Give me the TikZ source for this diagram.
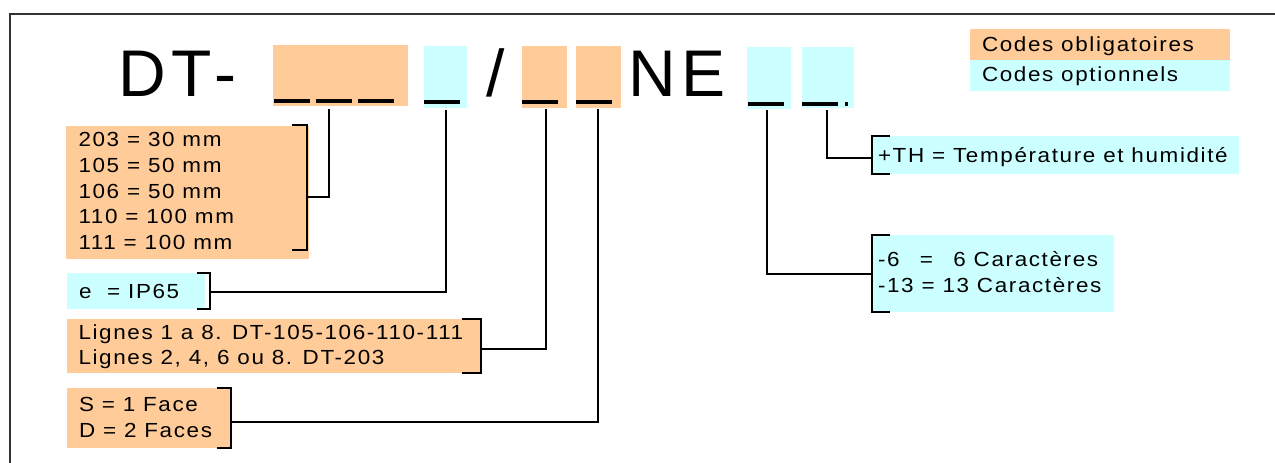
\documentclass[tikz,border=0pt]{standalone}
\usepackage{fontspec}
\setmainfont{Liberation Sans}[FakeStretch=1.1, LetterSpace=8]
\newfontfamily\titlefont{Liberation Sans}[LetterSpace=9]
\definecolor{peach}{HTML}{FFCC99}
\definecolor{aqua}{HTML}{CCFFFF}
\begin{document}
\begin{tikzpicture}[x=1pt,y=-1pt,
  box/.style={inner sep=0pt, outer sep=0pt, anchor=north west, draw=none},
  ob/.style={box, fill=peach},
  op/.style={box, fill=aqua},
  txt/.style={inner sep=0pt, outer sep=0pt, anchor=base west, font=\fontsize{20.4}{24}\selectfont},
  big/.style={inner sep=0pt, outer sep=0pt, anchor=base west, font=\titlefont\fontsize{66}{70}\selectfont},
  conn/.style={line width=1.8pt, black},
  brk/.style={line width=1.8pt, black}]
\useasboundingbox (0,0) rectangle (1275,463);
\fill[white] (0,0) rectangle (1275,463);
\draw[line width=2pt, black!80] (10,480) -- (10,14) -- (1290,14);

% title
\node[big] (dt) at (118.1,96.5) {DT-};
\node[big] (sl) at (486,96.5) {/};
\node[big] (ne) at (628.3,96.5) {NE};

% code boxes
\node[ob, minimum width=135pt, minimum height=61pt] (k1) at (273.3,45) {};
\node[op, minimum width=43pt, minimum height=61.7pt] (k2) at (424,46) {};
\node[ob, minimum width=45pt, minimum height=62pt] (k3) at (522,46) {};
\node[ob, minimum width=45pt, minimum height=62pt] (k4) at (576,46) {};
\node[op, minimum width=44pt, minimum height=62pt] (k5) at (747,47) {};
\node[op, minimum width=52pt, minimum height=61pt] (k6) at (802,47) {};

% underscores
\fill (274,99) rectangle (310,103);
\fill (316,99) rectangle (352,103);
\fill (358,99) rectangle (394,103);
\fill (424,100) rectangle (460,104);
\fill (522,100) rectangle (558,104);
\fill (576,100) rectangle (612,104);
\fill (748,102) rectangle (784,106);
\fill (802,102) rectangle (838,106);
\fill (845,102) rectangle (847.5,106);

% legend
\node[ob, minimum width=260pt, minimum height=30.7pt] (lo) at (970,29.3) {};
\node[op, minimum width=260pt, minimum height=30.7pt] (lc) at (970,60) {};
\node[txt] (lot) at (982,51) {Codes obligatoires};
\node[txt] (lct) at (982,81.7) {Codes optionnels};

% box A
\node[ob, minimum width=243pt, minimum height=132.7pt] (ba) at (66,126) {};
\node[txt] (a1) at (78.5,146.7) {203 = 30 mm};
\node[txt] (a2) at (78.5,172.3) {105 = 50 mm};
\node[txt] (a3) at (78.5,198) {106 = 50 mm};
\node[txt] (a4) at (78.5,223.3) {110 = 100 mm};
\node[txt] (a5) at (78.5,249) {111 = 100 mm};
\draw[brk] (291.7,124.7) -- (306.7,124.7) -- (306.7,250) -- (291.7,250);
\coordinate (ca) at (306.7,197.3);
\coordinate (ja) at (329,108.5);
\draw[conn] (ca) -| (ja);

% box B
\node[op, minimum width=138pt, minimum height=36pt] (bb) at (67,273.3) {};
\node[txt] (b1) at (79,298.3) {e\ \ = IP65};
\draw[brk] (196.7,273.3) -- (210,273.3) -- (210,309) -- (196.7,309);
\coordinate (cb) at (210,292.3);
\coordinate (jb) at (445.7,110);
\draw[conn] (cb) -| (jb);

% box C
\node[ob, minimum width=413pt, minimum height=53.7pt] (bc) at (67,319) {};
\node[txt] (c1) at (78.5,339.3) {Lignes 1 a 8. DT-105-106-110-111};
\node[txt] (c2) at (78.5,364.3) {Lignes 2, 4, 6 ou 8. DT-203};
\draw[brk] (462,319) -- (481,319) -- (481,372.7) -- (462,372.7);
\coordinate (cc) at (481,349.3);
\coordinate (jc) at (545.7,109);
\draw[conn] (cc) -| (jc);

% box D
\node[ob, minimum width=163pt, minimum height=60pt] (bd) at (67,388.3) {};
\node[txt] (d1) at (79,411.7) {S = 1 Face};
\node[txt] (d2) at (79,437.7) {D = 2 Faces};
\draw[brk] (217,388.3) -- (230.7,388.3) -- (230.7,448.3) -- (217,448.3);
\coordinate (cd) at (230.7,422.3);
\coordinate (jd) at (597.7,109);
\draw[conn] (cd) -| (jd);

% TH box
\node[op, minimum width=366pt, minimum height=38.3pt] (be) at (873,136) {};
\node[txt] (e1) at (878,162.3) {+TH = Température et humidité};
\draw[brk] (890,136) -- (872.3,136) -- (872.3,174.3) -- (890,174.3);
\coordinate (ce) at (872.3,158.3);
\coordinate (je) at (827,110);
\draw[conn] (ce) -| (je);

% caracteres box
\node[op, minimum width=241pt, minimum height=76.7pt] (bf) at (873,235) {};
\node[txt] (f1) at (878,266.7) {-6\phantom{3} = \phantom{1}6 Caractères};
\node[txt] (f2) at (878,292.7) {-13 = 13 Caractères};
\draw[brk] (890,235) -- (872.3,235) -- (872.3,311.7) -- (890,311.7);
\coordinate (cf) at (872.3,274);
\coordinate (jf) at (767,110);
\draw[conn] (cf) -| (jf);
\end{tikzpicture}
\end{document}
